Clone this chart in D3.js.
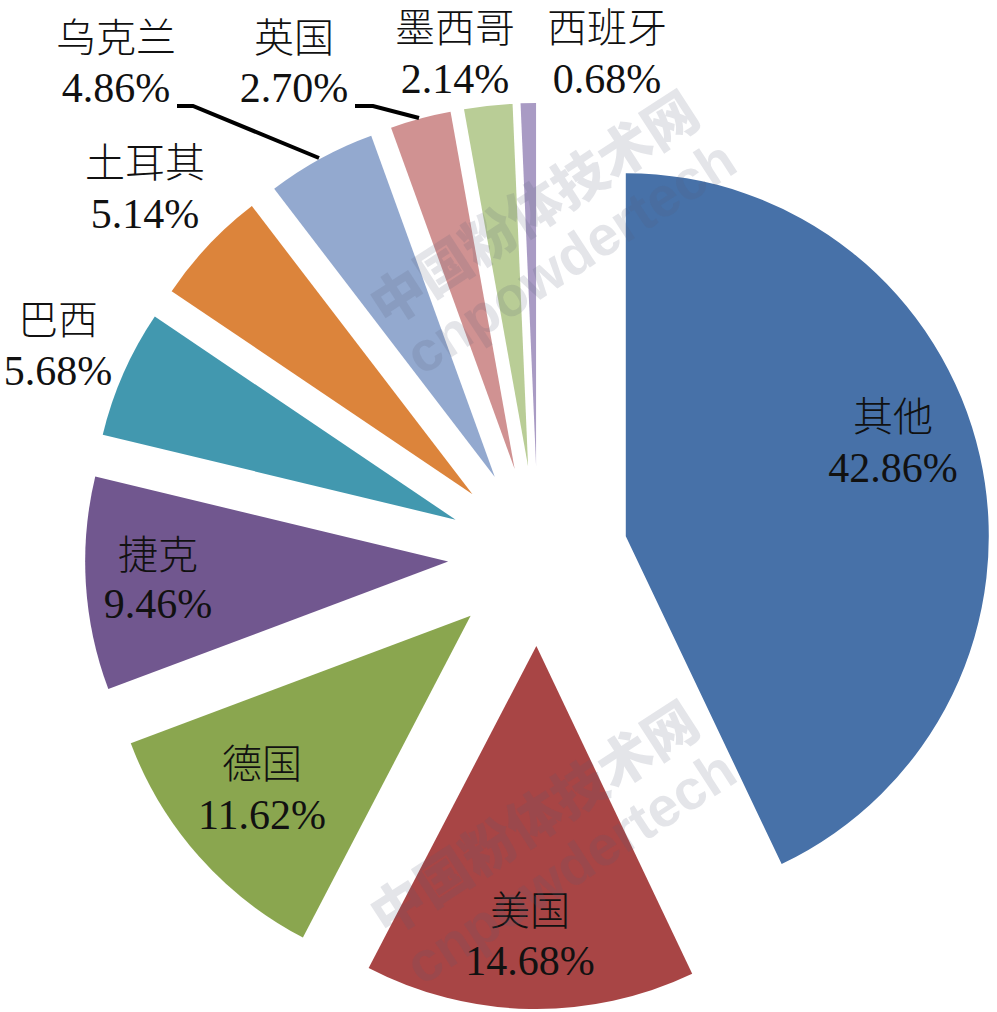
<!DOCTYPE html>
<html>
<head>
<meta charset="utf-8">
<script src="https://cdn.jsdelivr.net/npm/d3@7"></script>
<style>
  body { margin: 0; background: #fff; }
  text { fill: #111; }
  .cn { font-family: "Noto Sans CJK SC"; font-weight: 300; font-size: 40px; }
  .num { font-family: "Liberation Serif"; font-size: 42px; }
</style>
</head>
<body>
<div id="chart"></div>
<script>
var countries = ["其他", "美国", "德国", "捷克", "巴西", "土耳其", "乌克兰", "英国", "墨西哥", "西班牙"];
var shares = [42.86, 14.68, 11.62, 9.46, 5.68, 5.14, 4.86, 2.70, 2.14, 0.68];
var colors = ["#4771A8", "#A84545", "#8AA64F", "#71578F", "#4298AF", "#DC843B", "#93A9CF", "#D09292", "#B9CD96", "#A99BC4"];

// label anchors: x, baseline of name, baseline of value
var labelX = [893, 530, 262, 158, 58, 145, 116, 294, 455, 607];
var nameY = [431, 925, 778, 569, 334, 177, 52, 52, 42, 42];
var valueY = [482, 975, 829, 618, 385, 228, 102, 102, 93, 93];

var width = 997, height = 1012;
var cx = 538, cy = 556, radius = 363, explode = 90;

var svg = d3.select("#chart").append("svg")
  .attr("width", width)
  .attr("height", height);

var pie = d3.pie().value(d => d).sort(null);
var arc = d3.arc().innerRadius(0).outerRadius(radius);
var slices = pie(shares);

svg.append("g")
  .attr("transform", `translate(${cx},${cy})`)
  .selectAll("path")
  .data(slices)
  .enter()
  .append("path")
  .attr("d", arc)
  .attr("fill", (d, i) => colors[i])
  .attr("transform", d => {
    var mid = (d.startAngle + d.endAngle) / 2;
    return `translate(${explode * Math.sin(mid)},${-explode * Math.cos(mid)})`;
  });

// leader lines for 乌克兰 and 英国
var leaders = [
  [[177, 106], [193, 106], [319, 158]],
  [[355, 106], [373, 106], [419, 118]]
];
svg.selectAll(".leader")
  .data(leaders)
  .enter()
  .append("path")
  .attr("class", "leader")
  .attr("d", d3.line())
  .attr("fill", "none")
  .attr("stroke", "#000")
  .attr("stroke-width", 4);

var labels = svg.selectAll(".label")
  .data(countries)
  .enter()
  .append("g")
  .attr("class", "label")
  .attr("text-anchor", "middle");

labels.append("text")
  .attr("class", "cn")
  .attr("x", (d, i) => labelX[i])
  .attr("y", (d, i) => nameY[i])
  .text(d => d);

labels.append("text")
  .attr("class", "num")
  .attr("x", (d, i) => labelX[i])
  .attr("y", (d, i) => valueY[i])
  .text((d, i) => shares[i].toFixed(2) + "%");

// watermark, twice
var marks = svg.selectAll(".mark")
  .data([0, 610])
  .enter()
  .append("g")
  .attr("class", "mark")
  .attr("transform", d => `translate(545,${225 + d}) rotate(-33)`)
  .attr("text-anchor", "middle")
  .attr("font-weight", "900");

marks.append("text")
  .attr("font-family", "Noto Sans CJK SC")
  .attr("font-size", 54)
  .attr("y", 0)
  .style("fill", "rgba(90,95,120,0.16)")
  .text("中国粉体技术网");

marks.append("text")
  .attr("font-family", "Liberation Sans")
  .attr("font-size", 56)
  .attr("x", 4)
  .attr("y", 60)
  .style("fill", "rgba(90,95,120,0.16)")
  .text("cnpowdertech");
</script>
</body>
</html>
